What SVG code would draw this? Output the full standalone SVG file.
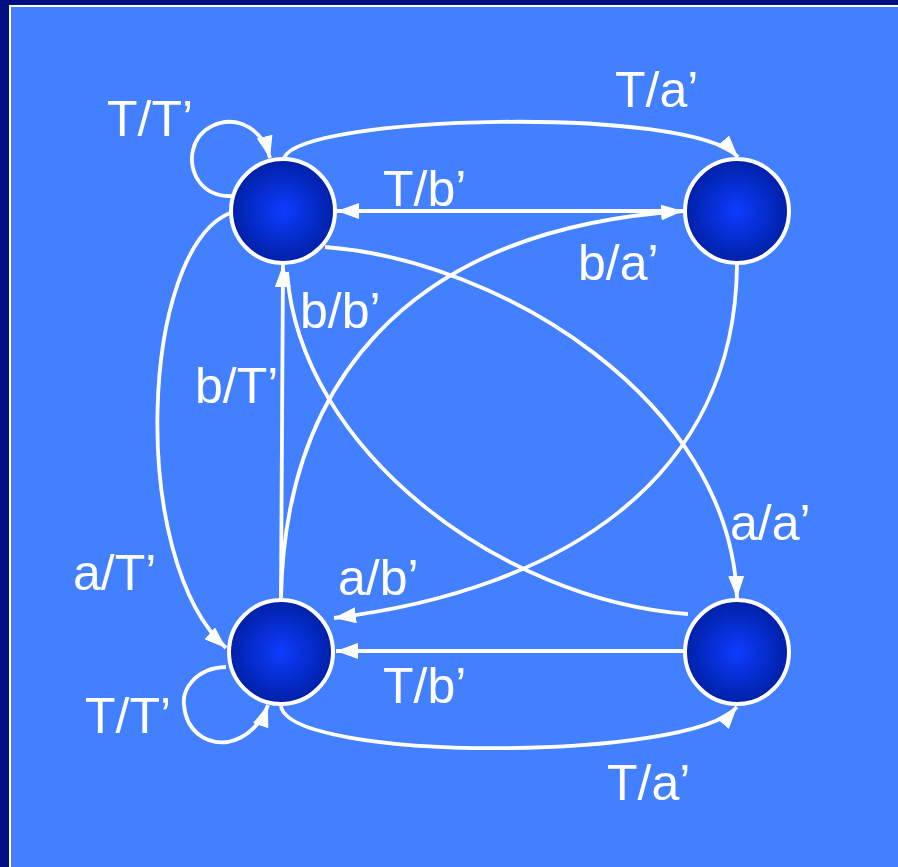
<svg xmlns="http://www.w3.org/2000/svg" width="898" height="867" viewBox="0 0 898 867">
<defs>
<radialGradient id="ng" cx="50%" cy="50%" r="50%">
<stop offset="0%" stop-color="#0D3CFF"/>
<stop offset="100%" stop-color="#0020A6"/>
</radialGradient>
<marker id="ah" viewBox="0 0 22 16" refX="22" refY="8" markerWidth="22" markerHeight="16" markerUnits="userSpaceOnUse" orient="auto">
<path d="M0,0 L22,8 L0,16 z" fill="#FFFFFF"/>
</marker>
<style>
.e{fill:none;stroke:#FFFFFF;stroke-width:3.8}
.a{marker-end:url(#ah)}
.n{fill:url(#ng);stroke:#FFFFFF;stroke-width:4}
.t{font-family:"Liberation Sans",Arial,sans-serif;font-size:50px;fill:#FFFFFF}
</style>
</defs>
<rect x="0" y="0" width="898" height="867" fill="#000E7F"/>
<rect x="10" y="6" width="898" height="867" fill="#4380FF" stroke="#FFFFFF" stroke-width="2"/>
<g id="connectors">
<path class="e a" d="M284,158 C300,115 690,105 738,157"/>
<path class="e a" d="M683,211 L337,211"/>
<path class="e a" d="M281,598 C285,390 400,230 683,211"/>
<path class="e" d="M688,614 C500,600 300,450 287,272"/>
<path class="e a" d="M281,598 L283,265"/>
<path class="e a" d="M325,247 C500,260 730,400 737,598"/>
<path class="e a" d="M737,265 C735,480 560,590 334,618"/>
<path class="e a" d="M684,651 L336,651"/>
<path class="e a" d="M281,706 C290,762 690,762 737,707"/>
<path class="e a" d="M230,213 C140,250 128,560 226,648"/>
<path class="e a" d="M234,196 C200,198 188,170 193,150 C198,128 222,117 242,124 C258,130 266,142 270,158"/>
<path class="e a" d="M226,667 C195,668 182,690 184,705 C186,730 205,745 228,742 C248,738 262,722 268,705"/>
</g>
<g id="labels">
<text class="t" x="107" y="136">T/T’</text>
<text class="t" x="615" y="107">T/a’</text>
<text class="t" x="383" y="206">T/b’</text>
<text class="t" x="578" y="280">b/a’</text>
<text class="t" x="300" y="328">b/b’</text>
<text class="t" x="195" y="403">b/T’</text>
<text class="t" x="730" y="540">a/a’</text>
<text class="t" x="73" y="590">a/T’</text>
<text class="t" x="338" y="595">a/b’</text>
<text class="t" x="383" y="703">T/b’</text>
<text class="t" x="85" y="733">T/T’</text>
<text class="t" x="607" y="800">T/a’</text>
</g>
<g id="nodeA"><circle class="n" cx="283" cy="211" r="52"/></g>
<g id="nodeB"><circle class="n" cx="737" cy="211" r="52"/></g>
<g id="nodeC"><circle class="n" cx="281" cy="652" r="52"/></g>
<g id="nodeD"><circle class="n" cx="737" cy="652" r="52"/></g>
</svg>
